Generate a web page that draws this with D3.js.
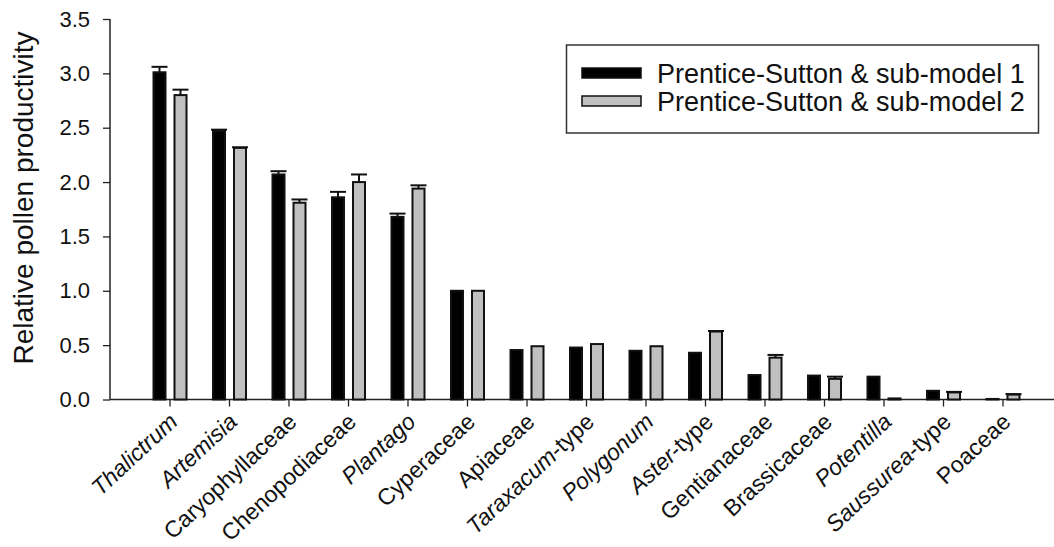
<!DOCTYPE html>
<html><head><meta charset="utf-8">
<script src="https://cdn.jsdelivr.net/npm/d3@7"></script>
<style>body{margin:0;background:#fff;} svg{display:block;} text{font-family:Arial,"Liberation Sans",sans-serif;fill:#111;}</style>
</head><body>
<svg id="chart" width="1054" height="547"></svg>
<script>
const categories = ["Thalictrum","Artemisia","Caryophyllaceae","Chenopodiaceae","Plantago","Cyperaceae","Apiaceae","Taraxacum","Polygonum","Aster","Gentianaceae","Brassicaceae","Potentilla","Saussurea","Poaceae"];
const italicPart = [true,true,false,false,true,false,false,true,true,true,false,false,true,true,false];
const suffix = ["","","","","","","","-type","","-type","","","","-type",""];
const series = ["Prentice-Sutton & sub-model 1","Prentice-Sutton & sub-model 2"];
const model1 = [3.01,2.47,2.07,1.86,1.68,1.00,0.455,0.478,0.448,0.43,0.225,0.22,0.21,0.08,0.005];
const model1Err = [0.05,0.012,0.03,0.05,0.03,0,0,0,0,0,0,0,0,0,0];
const model2 = [2.80,2.315,1.81,2.00,1.94,1.00,0.49,0.51,0.49,0.625,0.385,0.19,0.01,0.065,0.045];
const model2Err = [0.05,0.005,0.03,0.07,0.03,0,0,0,0,0.005,0.025,0.02,0,0.005,0.005];
const yTicks = [0,0.5,1.0,1.5,2.0,2.5,3.0,3.5];
const colors = ["#000000","#c0c0c0"];

const svg = d3.select("#chart");
const y = d3.scaleLinear().domain([0,3.5]).range([399.5,19]);
const x = d3.scaleBand().domain(categories).range([140.25,1032.75]).padding(0);
const inner = d3.scaleBand().domain([0,1]).range([-17.5,17.5]).paddingInner(1/3);

// axes
const yAxis = d3.axisLeft(y).tickValues(yTicks).tickFormat(d3.format(".1f")).tickSize(7).tickPadding(13);
const gy = svg.append("g").attr("transform","translate(110,0)").call(yAxis);
gy.select(".domain").remove();
gy.selectAll(".tick line").attr("stroke","#222").attr("stroke-width",1.3);
gy.selectAll(".tick text").style("font-size","22px").style("font-family","Arial, 'Liberation Sans', sans-serif").attr("fill","#111");
svg.append("line").attr("x1",110).attr("x2",110).attr("y1",y(3.5)).attr("y2",y(0)).attr("stroke","#222").attr("stroke-width",1.5);

const xAxis = d3.axisBottom(x).tickSize(7).tickFormat("");
const gx = svg.append("g").attr("transform",`translate(0,${y(0)})`).call(xAxis);
gx.select(".domain").remove();
gx.selectAll(".tick line").attr("stroke","#222").attr("stroke-width",1.3);
svg.append("line").attr("x1",110).attr("x2",1054).attr("y1",y(0)).attr("y2",y(0)).attr("stroke","#222").attr("stroke-width",1.5);

// x labels
categories.forEach((c,i)=>{
  const cx = x(c)+x.bandwidth()/2;
  const t = svg.append("text")
    .attr("transform",`translate(${cx+9},${y(0)+24}) rotate(-43)`)
    .attr("text-anchor","end").style("font-size","23px");
  t.append("tspan").style("font-style", italicPart[i]?"italic":"normal").text(c);
  if (suffix[i]) t.append("tspan").text(suffix[i]);
});

// bars
const data = [ {v:model1,e:model1Err}, {v:model2,e:model2Err} ];
data.forEach((s,si)=>{
  const g = svg.append("g");
  categories.forEach((c,i)=>{
    const cx = x(c)+x.bandwidth()/2;
    const bx = cx + inner(si);
    const bw = inner.bandwidth();
    const top = y(s.v[i]);
    g.append("rect").attr("x",bx+1).attr("y",top).attr("width",bw-2).attr("height",Math.max(0,y(0)-top))
      .attr("fill",colors[si]).attr("stroke","#111").attr("stroke-width",2);
    if (s.e[i]>0){
      const et = y(s.v[i]+s.e[i]);
      const mx = bx+bw/2;
      g.append("line").attr("x1",mx).attr("x2",mx).attr("y1",top).attr("y2",et).attr("stroke","#111").attr("stroke-width",2);
      g.append("line").attr("x1",mx-8).attr("x2",mx+8).attr("y1",et).attr("y2",et).attr("stroke","#111").attr("stroke-width",2);
    }
  });
});

// y title
svg.append("text").attr("transform","translate(33,198) rotate(-90)").attr("text-anchor","middle")
  .style("font-size","28px").text("Relative pollen productivity");

// legend
const lg = svg.append("g");
lg.append("rect").attr("x",566.5).attr("y",45).attr("width",472).attr("height",88).attr("fill","#fff").attr("stroke","#333").attr("stroke-width",1.5);
series.forEach((s,i)=>{
  const ly = 73 + i*28;
  lg.append("rect").attr("x",582).attr("y",ly-5).attr("width",59).attr("height",10).attr("fill",colors[i]).attr("stroke","#111").attr("stroke-width",1.5);
  lg.append("text").attr("x",657).attr("y",ly).attr("dy","0.36em").style("font-size","27px").text(s);
});
</script>
</body></html>
